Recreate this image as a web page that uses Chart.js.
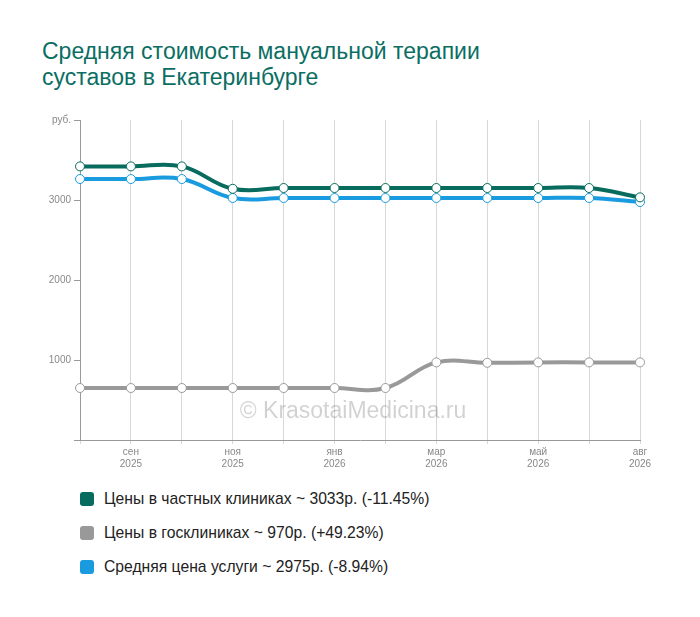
<!DOCTYPE html><html><head><meta charset="utf-8">
<script src="https://cdn.jsdelivr.net/npm/chart.js@4"></script>
<style>body{margin:0;width:700px;height:617px;background:#fff;font-family:"Liberation Sans",Arial,sans-serif;position:relative}
#t{position:absolute;left:42px;top:38px;font-size:23px;line-height:26px;color:#0b6e63}
#c{position:absolute;left:0;top:0}
.lg{position:absolute;left:80px;font-size:15.7px;color:#222;display:flex;align-items:center}
.lg i{display:inline-block;width:14px;height:14px;border-radius:3px;margin-right:10px}
</style></head><body>
<div id="t">Средняя стоимость мануальной терапии<br>суставов в Екатеринбурге</div>
<canvas id="c" width="700" height="470"></canvas>
<div class="lg" style="top:490px"><i style="background:#076b5d"></i>Цены в частных клиниках ~ 3033р. (-11.45%)</div>
<div class="lg" style="top:524px"><i style="background:#999"></i>Цены в госклиниках ~ 970р. (+49.23%)</div>
<div class="lg" style="top:558px"><i style="background:#1a9be0"></i>Средняя цена услуги ~ 2975р. (-8.94%)</div>
<script>
const labels=[[""],["сен","2025"],[""],["ноя","2025"],[""],["янв","2026"],[""],["мар","2026"],[""],["май","2026"],[""],["авг","2026"]];
const privatePrices=[3420,3420,3420,3140,3150,3150,3150,3150,3150,3150,3150,3033];
const publicPrices=[650,650,650,650,650,650,650,970,965,970,970,970];
const avgPrices=[3262,3262,3262,3025,3025,3025,3025,3025,3025,3025,3025,2975];
const ds=(d,c)=>({data:d,borderColor:c,borderWidth:4,tension:0.4,pointRadius:4.5,pointBackgroundColor:'#fff',pointBorderColor:c,pointBorderWidth:1,clip:false});
const wm={id:'wm',beforeDatasetsDraw(ch){const x=ch.ctx;x.save();x.font='23px "Liberation Sans",Arial';x.fillStyle='rgba(0,0,0,0.18)';x.textAlign='center';x.fillText('© KrasotaiMedicina.ru',353,418);x.restore();}};
new Chart(document.getElementById('c'),{type:'line',data:{labels,datasets:[ds(privatePrices,'#076b5d'),ds(publicPrices,'#999'),ds(avgPrices,'#1a9be0')]},
options:{responsive:false,animation:false,layout:{padding:{top:120,right:60,left:0,bottom:0}},plugins:{legend:{display:false},tooltip:{enabled:false}},
scales:{x:{offset:false,afterFit(s){s.height=30},grid:{color:'#d8d8d8',tickLength:4},border:{color:'#999'},ticks:{color:'#888',font:{size:10},maxRotation:0,autoSkip:false,padding:2}},
y:{min:0,max:4000,afterFit(s){s.width=80},ticks:{stepSize:1000,color:'#888',font:{size:10},callback:v=>v===4000?'руб.':v===0?'':v},grid:{drawOnChartArea:false,tickLength:6,color:'#999'},border:{color:'#999'}}}},plugins:[wm]});
</script></body></html>
